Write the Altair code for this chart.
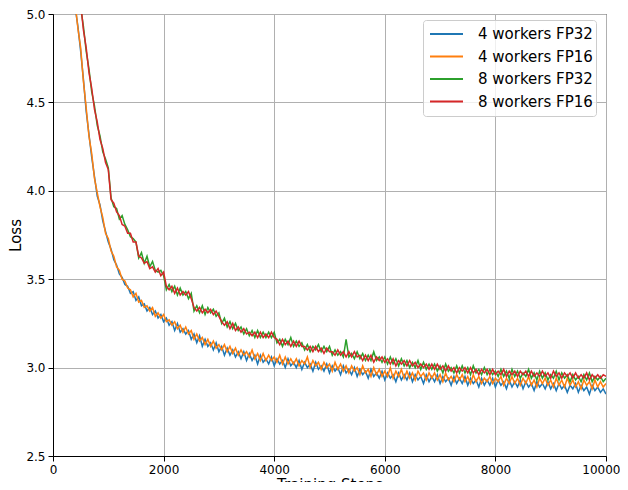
import altair as alt
import pandas as pd

# Training steps (every 50 steps, curves start above the visible range)
steps = list(range(400, 10001, 50))

series_names = ["4 workers FP32", "4 workers FP16", "8 workers FP32", "8 workers FP16"]
series_colors = ["#1f77b4", "#ff7f0e", "#2ca02c", "#d62728"]

x_ticks = [0, 2000, 4000, 6000, 8000, 10000]
y_ticks = [2.5, 3.0, 3.5, 4.0, 4.5, 5.0]

loss_4_fp32 = [
    5.04, 4.93, 4.79, 4.63, 4.45, 4.32, 4.19, 4.08, 3.97, 3.92,
    3.83, 3.77, 3.71, 3.67, 3.61, 3.58, 3.53, 3.51, 3.47, 3.46,
    3.42, 3.43, 3.38, 3.40, 3.35, 3.36, 3.32, 3.34, 3.30, 3.32,
    3.28, 3.30, 3.26, 3.28, 3.24, 3.26, 3.21, 3.25, 3.20, 3.22,
    3.19, 3.21, 3.16, 3.19, 3.14, 3.18, 3.12, 3.16, 3.12, 3.14,
    3.10, 3.14, 3.09, 3.12, 3.07, 3.11, 3.07, 3.10, 3.06, 3.09,
    3.05, 3.09, 3.04, 3.08, 3.04, 3.07, 3.02, 3.07, 3.03, 3.05,
    3.02, 3.06, 3.01, 3.05, 3.02, 3.04, 3.00, 3.05, 3.01, 3.03,
    3.00, 3.04, 2.99, 3.03, 3.00, 3.02, 2.98, 3.03, 2.99, 3.01,
    2.98, 3.02, 2.97, 3.01, 2.98, 3.00, 2.96, 3.01, 2.97, 2.99,
    2.96, 3.00, 2.95, 2.99, 2.96, 2.98, 2.94, 2.99, 2.95, 2.97,
    2.94, 2.98, 2.93, 2.97, 2.94, 2.96, 2.92, 2.97, 2.93, 2.96,
    2.93, 2.97, 2.92, 2.96, 2.93, 2.95, 2.91, 2.96, 2.92, 2.95,
    2.92, 2.96, 2.91, 2.95, 2.92, 2.94, 2.90, 2.95, 2.91, 2.94,
    2.91, 2.95, 2.90, 2.94, 2.91, 2.93, 2.89, 2.94, 2.90, 2.93,
    2.90, 2.94, 2.89, 2.93, 2.90, 2.92, 2.88, 2.93, 2.89, 2.92,
    2.89, 2.93, 2.88, 2.92, 2.89, 2.91, 2.87, 2.92, 2.89, 2.91,
    2.88, 2.92, 2.88, 2.91, 2.87, 2.91, 2.88, 2.90, 2.86, 2.90,
    2.88, 2.91, 2.86, 2.90, 2.87, 2.89, 2.85, 2.90, 2.87, 2.89,
    2.86, 2.88, 2.85,
]

loss_4_fp16 = [
    5.06, 4.92, 4.81, 4.62, 4.47, 4.31, 4.21, 4.07, 3.99, 3.91,
    3.85, 3.76, 3.73, 3.66, 3.63, 3.57, 3.55, 3.50, 3.49, 3.45,
    3.44, 3.40, 3.42, 3.37, 3.38, 3.34, 3.35, 3.32, 3.34, 3.29,
    3.31, 3.28, 3.30, 3.26, 3.27, 3.24, 3.26, 3.22, 3.24, 3.20,
    3.23, 3.19, 3.21, 3.16, 3.19, 3.15, 3.17, 3.13, 3.16, 3.12,
    3.15, 3.11, 3.13, 3.10, 3.13, 3.09, 3.12, 3.08, 3.11, 3.07,
    3.10, 3.07, 3.09, 3.06, 3.10, 3.05, 3.08, 3.04, 3.08, 3.04,
    3.07, 3.04, 3.06, 3.03, 3.07, 3.02, 3.06, 3.02, 3.05, 3.02,
    3.05, 3.01, 3.04, 3.02, 3.06, 3.00, 3.04, 3.01, 3.03, 2.99,
    3.03, 3.00, 3.02, 2.98, 3.03, 2.99, 3.02, 2.98, 3.01, 2.97,
    3.01, 2.98, 3.00, 2.96, 3.01, 2.97, 2.99, 2.95, 3.00, 2.96,
    2.99, 2.95, 2.98, 2.95, 3.00, 2.94, 2.98, 2.95, 2.99, 2.94,
    2.98, 2.94, 2.97, 2.93, 2.98, 2.95, 2.97, 2.93, 2.97, 2.94,
    2.97, 2.93, 2.96, 2.92, 2.97, 2.93, 2.95, 2.92, 2.96, 2.93,
    2.96, 2.92, 2.95, 2.91, 2.96, 2.92, 2.95, 2.91, 2.94, 2.92,
    2.95, 2.91, 2.94, 2.92, 2.95, 2.90, 2.94, 2.91, 2.95, 2.91,
    2.94, 2.90, 2.94, 2.91, 2.95, 2.90, 2.93, 2.89, 2.94, 2.91,
    2.94, 2.90, 2.93, 2.89, 2.94, 2.90, 2.93, 2.89, 2.94, 2.90,
    2.93, 2.89, 2.92, 2.88, 2.93, 2.90, 2.92, 2.88, 2.93, 2.89,
    2.92, 2.89, 2.91,
]

loss_8_fp32 = [
    5.29, 5.19, 5.04, 4.93, 4.79, 4.69, 4.56, 4.48, 4.37, 4.31,
    4.22, 4.18, 4.13, 3.96, 3.91, 3.90, 3.84, 3.86, 3.81, 3.78,
    3.74, 3.73, 3.71, 3.62, 3.65, 3.59, 3.63, 3.57, 3.60, 3.55,
    3.54, 3.55, 3.52, 3.44, 3.47, 3.43, 3.46, 3.41, 3.45, 3.41,
    3.43, 3.39, 3.42, 3.32, 3.35, 3.31, 3.35, 3.30, 3.34, 3.31,
    3.33, 3.29, 3.31, 3.25, 3.28, 3.23, 3.26, 3.22, 3.25, 3.21,
    3.23, 3.19, 3.22, 3.18, 3.21, 3.17, 3.21, 3.17, 3.20, 3.17,
    3.20, 3.17, 3.20, 3.14, 3.16, 3.12, 3.16, 3.13, 3.17, 3.12,
    3.15, 3.12, 3.14, 3.10, 3.13, 3.09, 3.12, 3.10, 3.13, 3.09,
    3.12, 3.09, 3.12, 3.07, 3.10, 3.07, 3.09, 3.06, 3.16, 3.06,
    3.08, 3.05, 3.09, 3.05, 3.08, 3.04, 3.07, 3.04, 3.09, 3.04,
    3.06, 3.03, 3.06, 3.02, 3.06, 3.02, 3.05, 3.01, 3.05, 3.01,
    3.04, 3.00, 3.03, 3.00, 3.04, 2.99, 3.03, 2.99, 3.02, 2.99,
    3.02, 2.98, 3.01, 2.97, 3.02, 2.98, 3.00, 2.97, 3.01, 2.97,
    3.01, 2.97, 3.00, 2.96, 3.01, 2.97, 2.99, 2.96, 3.00, 2.96,
    2.99, 2.96, 2.98, 2.95, 2.99, 2.95, 2.98, 2.94, 2.99, 2.95,
    2.98, 2.94, 2.97, 2.95, 2.99, 2.94, 2.97, 2.93, 2.98, 2.94,
    2.97, 2.93, 2.96, 2.94, 2.98, 2.93, 2.97, 2.94, 2.96, 2.92,
    2.96, 2.93, 2.95, 2.92, 2.96, 2.93, 2.97, 2.92, 2.95, 2.93,
    2.95, 2.92, 2.94,
]

loss_8_fp16 = [
    5.31, 5.17, 5.06, 4.91, 4.81, 4.67, 4.58, 4.46, 4.39, 4.29,
    4.24, 4.16, 4.12, 3.95, 3.93, 3.88, 3.86, 3.81, 3.80, 3.76,
    3.76, 3.71, 3.71, 3.63, 3.62, 3.59, 3.60, 3.56, 3.57, 3.54,
    3.56, 3.52, 3.54, 3.46, 3.44, 3.46, 3.42, 3.45, 3.41, 3.43,
    3.41, 3.43, 3.39, 3.34, 3.32, 3.34, 3.31, 3.33, 3.31, 3.33,
    3.30, 3.32, 3.29, 3.26, 3.24, 3.26, 3.22, 3.25, 3.21, 3.23,
    3.20, 3.22, 3.19, 3.20, 3.18, 3.20, 3.17, 3.20, 3.17, 3.19,
    3.17, 3.20, 3.17, 3.16, 3.13, 3.16, 3.13, 3.15, 3.12, 3.15,
    3.12, 3.15, 3.12, 3.12, 3.10, 3.12, 3.09, 3.12, 3.09, 3.11,
    3.08, 3.11, 3.09, 3.09, 3.07, 3.10, 3.07, 3.09, 3.06, 3.09,
    3.06, 3.09, 3.06, 3.07, 3.04, 3.07, 3.04, 3.07, 3.03, 3.06,
    3.04, 3.06, 3.03, 3.05, 3.02, 3.05, 3.01, 3.04, 3.02, 3.04,
    3.01, 3.04, 3.01, 3.03, 3.00, 3.02, 3.00, 3.02, 2.99, 3.02,
    2.99, 3.02, 2.99, 3.01, 2.98, 3.01, 2.98, 3.00, 2.97, 3.00,
    2.98, 3.00, 2.97, 3.00, 2.97, 2.99, 2.96, 2.99, 2.97, 2.99,
    2.96, 2.99, 2.96, 2.98, 2.96, 2.99, 2.95, 2.98, 2.96, 2.98,
    2.95, 2.98, 2.96, 2.98, 2.95, 2.98, 2.95, 2.97, 2.95, 2.98,
    2.95, 2.97, 2.94, 2.98, 2.95, 2.97, 2.94, 2.97, 2.95, 2.97,
    2.94, 2.97, 2.94, 2.96, 2.94, 2.97, 2.93, 2.96, 2.94, 2.96,
    2.94, 2.96, 2.95,
]

all_series = [loss_4_fp32, loss_4_fp16, loss_8_fp32, loss_8_fp16]

FONT = "DejaVu Sans"
color_scale = alt.Scale(domain=series_names, range=series_colors)

x_enc = alt.X(
    "step:Q",
    scale=alt.Scale(domain=[0, 10000], nice=False),
    axis=alt.Axis(
        values=x_ticks,
        format="d",
        title="Training Steps",
        labelAlign=alt.ExprRef("datum.value == 10000 ? 'right' : 'center'"),
        labelOffset=alt.ExprRef("datum.value == 10000 ? 14 : 0"),
    ),
)
y_enc = alt.Y(
    "loss:Q",
    scale=alt.Scale(domain=[2.5, 5.0], nice=False, zero=False),
    axis=alt.Axis(values=y_ticks, format=".1f", title="Loss"),
)
legend = alt.Legend(
    title=None,
    orient="none",
    legendX=370,
    legendY=6,
    symbolType="stroke",
    symbolSize=1089,
    symbolStrokeWidth=2,
    symbolOpacity=1,
    symbolOffset=3,
    clipHeight=22,
    labelFont=FONT,
    labelFontSize=15,
    labelColor="black",
    labelOffset=14,
    fillColor="rgba(255,255,255,0.8)",
    strokeColor="#cccccc",
    cornerRadius=3,
    padding=3,
    rowPadding=0.5,
)

layers = []
for name, vals in zip(series_names, all_series):
    df = pd.DataFrame({"step": steps, "loss": vals, "series": name})
    layers.append(
        alt.Chart(df)
        .mark_line(strokeWidth=1.5, clip=True)
        .encode(
            x=x_enc,
            y=y_enc,
            color=alt.Color("series:N", scale=color_scale, legend=legend),
        )
    )

chart = (
    alt.layer(*layers)
    .properties(
        width=553,
        height=442,
        autosize=alt.AutoSizeParams(type="none"),
        padding={"left": 45, "top": 6, "right": 14, "bottom": 26},
        background="white",
    )
    .configure_view(stroke="black", strokeWidth=1)
    .configure_axis(
        labelFont=FONT,
        labelFontSize=12,
        labelColor="black",
        titleFont=FONT,
        titleFontSize=15,
        titleFontWeight="normal",
        titleColor="black",
        domainColor="black",
        domainWidth=1,
        tickColor="black",
        tickSize=5,
        tickWidth=1,
        labelPadding=3,
        grid=True,
        gridColor="#b0b0b0",
        gridWidth=1,
    )
    .configure_axisY(titlePadding=2, labelFlush=False)
    .configure_axisX(titlePadding=2, labelFlush=False)
)

chart.save("out.html", embed_options={"renderer": "svg", "actions": False})
